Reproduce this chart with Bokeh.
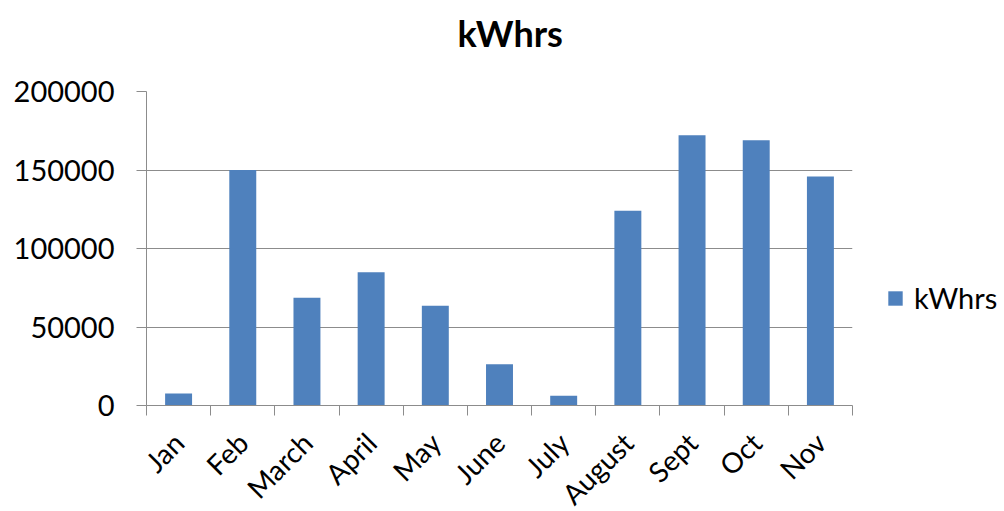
import math
from bokeh.plotting import figure
from bokeh.models import (Range1d, FixedTicker, NumeralTickFormatter, Legend,
                          LegendItem, ColumnDataSource, Title)
from bokeh.embed import file_html
from bokeh.resources import INLINE

# ---- data ----
months = ["Jan", "Feb", "March", "April", "May", "June", "July",
          "August", "Sept", "Oct", "Nov"]
kwhrs = [7600, 150000, 68700, 84800, 63600, 26300, 6200,
         124000, 172200, 169000, 145900]
y_ticks = [0, 50000, 100000, 150000, 200000]
series_name = "kWhrs"
chart_title = "kWhrs"

FONT = "Lato"
GRAY = "#8C8C8C"
BLUE = "#4F81BD"

n = len(months)
centers = [i + 0.5 for i in range(n)]
boundaries = list(range(n + 1))
source = ColumnDataSource(dict(x=centers, top=kwhrs, month=months))

FRAME_W, FRAME_H = 706, 314

p = figure(frame_width=FRAME_W, frame_height=FRAME_H,
           x_range=Range1d(0, n), y_range=Range1d(0, 200000),
           output_backend="svg", toolbar_location=None,
           min_border_left=146, min_border_right=150,
           min_border_top=91, min_border_bottom=106)

# gap between frame and title, then the title itself
p.add_layout(Title(text=" ", text_font_size="1px", standoff=34), "above")
p.add_layout(Title(text=chart_title, align="left", offset=311,
                   vertical_align="bottom", standoff=0,
                   text_font=FONT, text_font_size="36px",
                   text_font_style="bold", text_color="black"), "above")

r = p.vbar(x="x", top="top", width=0.42, source=source,
           fill_color=BLUE, line_color=None)

# y axis
yax = p.yaxis[0]
yax.ticker = FixedTicker(ticks=y_ticks)
yax.formatter = NumeralTickFormatter(format="0")
yax.major_tick_in = 0
yax.major_tick_out = 10
yax.major_tick_line_color = GRAY
yax.minor_tick_line_color = None
yax.axis_line_color = GRAY
yax.major_label_standoff = 22
yax.major_label_text_font = FONT
yax.major_label_text_font_size = "29px"
yax.major_label_text_color = "black"

# x axis
xax = p.xaxis[0]
xax.ticker = FixedTicker(ticks=centers, minor_ticks=boundaries)
xax.major_label_overrides = {c: m for c, m in zip(centers, months)}
xax.major_tick_line_color = None
xax.major_tick_in = 0
xax.major_tick_out = 10
xax.minor_tick_in = 0
xax.minor_tick_out = 10
xax.minor_tick_line_color = GRAY
xax.axis_line_color = GRAY
xax.major_label_orientation = math.pi / 4
xax.major_label_standoff = 22
xax.major_label_text_font = FONT
xax.major_label_text_font_size = "28px"
xax.major_label_text_color = "black"

# grid
p.xgrid.visible = False
p.ygrid.ticker = FixedTicker(ticks=y_ticks)
p.ygrid.grid_line_color = GRAY
p.ygrid.grid_line_width = 1
p.outline_line_color = None

legend = Legend(items=[LegendItem(label=series_name, renderers=[r])],
                location=(34, 90), margin=0, padding=0,
                border_line_color=None, background_fill_alpha=0,
                glyph_width=18, glyph_height=18, label_standoff=10,
                label_text_font=FONT, label_text_font_size="29px",
                label_text_color="black")
p.add_layout(legend, "right")

open("out.html", "w").write(file_html(p, INLINE))
